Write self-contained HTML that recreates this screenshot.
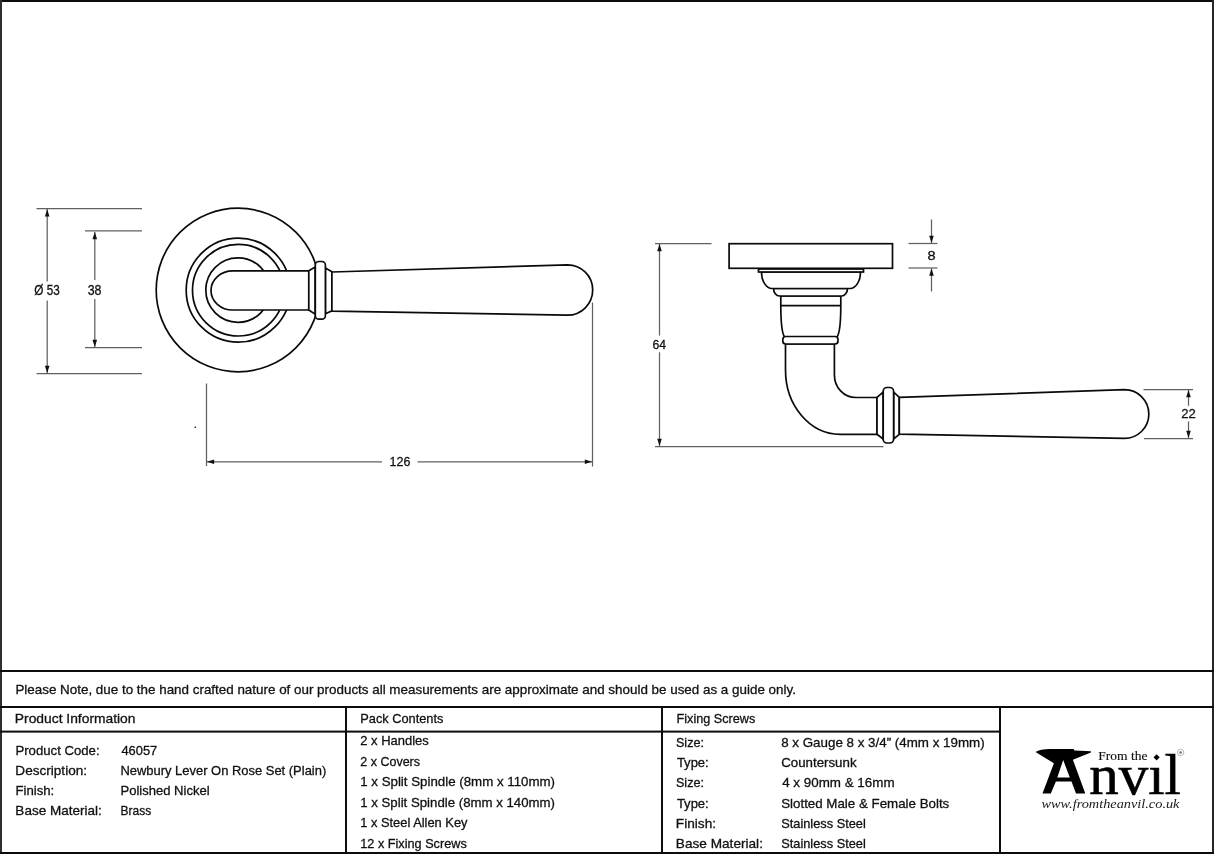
<!DOCTYPE html>
<html><head><meta charset="utf-8"><title>Newbury Lever On Rose Set</title>
<style>
html,body{margin:0;padding:0;background:#fff;}
body{width:1214px;height:867px;overflow:hidden;position:relative;}
svg{position:absolute;left:0;top:0;will-change:transform;}
text{font-family:"Liberation Sans",sans-serif;fill:#111;stroke:#111;stroke-width:0.3px;}
text.nv{stroke-width:0.6px;fill:#000;stroke:#000;}
text.ft{stroke-width:0.15px;}
text.url{stroke-width:0;fill:#1a1a1a;}
</style></head><body>
<svg width="1214" height="867" viewBox="0 0 1214 867">
<rect x="0" y="0" width="1214" height="867" fill="#fff"/>
<!-- frame -->
<g fill="#0c0c0c">
<rect x="0" y="0" width="1214" height="2"/>
<rect x="0" y="0" width="2" height="854" fill="#2e2e2e"/>
<rect x="1212" y="0" width="2" height="854" fill="#262626"/>
<rect x="0" y="852" width="1214" height="2"/>
<rect x="0" y="670" width="1214" height="2"/>
<rect x="0" y="706" width="1214" height="2"/>
<rect x="0" y="730.6" width="1000" height="2"/>
<rect x="345" y="706" width="2" height="148"/>
<rect x="661" y="706" width="2" height="148"/>
<rect x="999" y="706" width="2" height="148"/>
</g>
<g stroke="#606060" stroke-width="1.25" fill="none"><line x1="36.5" y1="208.7" x2="142" y2="208.7"/><line x1="36.5" y1="373.5" x2="142" y2="373.5"/><line x1="85" y1="230.9" x2="142" y2="230.9"/><line x1="85" y1="347.5" x2="142" y2="347.5"/><line x1="47.2" y1="209" x2="47.2" y2="281.6"/><line x1="47.2" y1="300.5" x2="47.2" y2="373"/><line x1="94.8" y1="232" x2="94.8" y2="280"/><line x1="94.8" y1="299" x2="94.8" y2="347"/><line x1="206.5" y1="383.5" x2="206.5" y2="466"/><line x1="592.5" y1="302.5" x2="592.5" y2="466.5"/><line x1="207" y1="461.8" x2="382" y2="461.8"/><line x1="417.5" y1="461.8" x2="592" y2="461.8"/></g><polygon points="47.2,209.3 44.900000000000006,216.5 49.5,216.5" fill="#111"/><polygon points="47.2,373 44.900000000000006,365.8 49.5,365.8" fill="#111"/><polygon points="94.8,232 92.5,239.2 97.1,239.2" fill="#111"/><polygon points="94.8,347 92.5,339.8 97.1,339.8" fill="#111"/><polygon points="206.9,461.8 214.1,459.5 214.1,464.1" fill="#111"/><polygon points="592,461.8 584.8,459.5 584.8,464.1" fill="#111"/><rect x="194.5" y="426.5" width="1.5" height="1.5" fill="#333"/><g stroke="#0a0a0a" stroke-width="1.7" fill="#fff"><circle cx="238" cy="290" r="81.8"/><circle cx="238.2" cy="290.2" r="52"/><circle cx="238.3" cy="290.2" r="45.8"/><circle cx="238" cy="290.1" r="32.2"/><path d="M308.8,270.8 L232.8,270.8 A21.8,19.6 0 0 0 232.8,310 L308.8,310 Z"/><path d="M308.8,270.8 L315.2,267 L315.2,314.1 L308.8,310 Z"/><path d="M325.4,268 L331.9,271.7 L331.9,310.9 L325.4,313.7 Z"/><rect x="315.3" y="261.5" width="10.1" height="57.7" rx="3.5"/><path d="M331.9,272 L567.5,264.8 A25.2,25.2 0 0 1 567.5,315.2 L331.9,311.1 Z"/></g><g stroke="#606060" stroke-width="1.25" fill="none"><line x1="655" y1="243.5" x2="711.5" y2="243.5"/><line x1="655" y1="446.5" x2="883.5" y2="446.5"/><line x1="659.5" y1="244" x2="659.5" y2="335.6"/><line x1="659.5" y1="352.3" x2="659.5" y2="446"/><line x1="908.5" y1="243.5" x2="937.5" y2="243.5"/><line x1="908.5" y1="268" x2="937.5" y2="268"/><line x1="931.5" y1="219.5" x2="931.5" y2="243"/><line x1="931.5" y1="268.5" x2="931.5" y2="291.5"/><line x1="1143.5" y1="389.5" x2="1193" y2="389.5"/><line x1="1144" y1="438.5" x2="1193" y2="438.5"/><line x1="1188.5" y1="390" x2="1188.5" y2="405.8"/><line x1="1188.5" y1="421.4" x2="1188.5" y2="438"/></g><polygon points="659.5,244 657.2,251.2 661.8,251.2" fill="#111"/><polygon points="659.5,446 657.2,438.8 661.8,438.8" fill="#111"/><polygon points="931.5,243 929.2,235.8 933.8,235.8" fill="#111"/><polygon points="931.5,268.5 929.2,275.7 933.8,275.7" fill="#111"/><polygon points="1188.5,390 1186.2,397.2 1190.8,397.2" fill="#111"/><polygon points="1188.5,438 1186.2,430.8 1190.8,430.8" fill="#111"/><g stroke="#0a0a0a" stroke-width="1.7" fill="#fff"><path d="M785.5,344 L785.5,370 C785.5,405.6 809.9,434.3 840,434.3 L877,434.3 L877,397.5 L856,397.5 C843.6,397.5 834.4,387.4 834.4,375 L834.4,344 Z"/><path d="M780.8,296 L840.8,296 L840.8,305 C840.8,322 840,333 837,337 L784.6,337 C781.6,333 780.8,322 780.8,305 Z"/><line x1="780.4" y1="305.6" x2="841" y2="305.6"/><rect x="782.8" y="336.5" width="55.2" height="7.5" rx="3"/><path d="M773.5,288.5 L847.5,288.5 A6,7.5 0 0 1 841.5,296 L779.5,296 A6,7.5 0 0 1 773.5,288.5 Z"/><path d="M761.5,272 L860.5,272 A10.5,16.5 0 0 1 850,288.5 L772,288.5 A10.5,16.5 0 0 1 761.5,272 Z"/><rect x="758.5" y="269" width="105" height="3"/><rect x="729.1" y="243.7" width="163.4" height="24.6"/><path d="M877,397.4 L883.2,392 L883.2,439 L877,434.3 Z"/><path d="M893.6,392 L899.3,397.3 L899.3,434.4 L893.6,439 Z"/><rect x="883.2" y="387.5" width="10.4" height="55.5" rx="3.8"/><path d="M899.3,397.3 L1124.5,389.7 A24.25,24.25 0 0 1 1124.5,438.4 L899.3,434.1 Z"/></g>

<g fill="#000">
<path fill-rule="evenodd" d="M1035.5,752 Q1040,749 1050,749 L1073.6,749 L1074.5,750.4 L1090.9,751.2 L1090.9,752.5 L1072.9,759.7 L1085.3,793.6 L1076,793.6 L1071.5,781.5 L1055.9,781.5 L1050.8,793.6 L1042.5,793.6 L1053.9,763.2 Z M1063.2,760 L1057.3,777.4 L1069.8,777.4 Z"/>
<path d="M1156.6,754.2 L1159.7,757.3 L1156.6,760.4 L1153.5,757.3 Z"/>
<circle cx="1180.6" cy="752.5" r="3.2" fill="none" stroke="#999" stroke-width="0.7"/>
<circle cx="1180.6" cy="752.5" r="1.3" fill="#777"/>
</g>

<text x="15.40" y="693.5" font-size="13.4" textLength="780.48" lengthAdjust="spacingAndGlyphs">Please Note, due to the hand crafted nature of our products all measurements are approximate and should be used as a guide only.</text>
<text x="14.87" y="722.8" font-size="13.4" textLength="120.62" lengthAdjust="spacingAndGlyphs">Product Information</text>
<text x="360.25" y="722.9" font-size="13.4" textLength="83.14" lengthAdjust="spacingAndGlyphs">Pack Contents</text>
<text x="676.55" y="723" font-size="13.4" textLength="78.77" lengthAdjust="spacingAndGlyphs">Fixing Screws</text>
<text x="15.42" y="754.5" font-size="13.4" textLength="84.18" lengthAdjust="spacingAndGlyphs">Product Code:</text>
<text x="121.40" y="754.5" font-size="13.4" textLength="35.84" lengthAdjust="spacingAndGlyphs">46057</text>
<text x="15.39" y="774.8" font-size="13.4" textLength="71.63" lengthAdjust="spacingAndGlyphs">Description:</text>
<text x="120.43" y="774.8" font-size="13.4" textLength="205.80" lengthAdjust="spacingAndGlyphs">Newbury Lever On Rose Set (Plain)</text>
<text x="15.42" y="795.1" font-size="13.4" textLength="38.81" lengthAdjust="spacingAndGlyphs">Finish:</text>
<text x="120.43" y="795.1" font-size="13.4" textLength="89.21" lengthAdjust="spacingAndGlyphs">Polished Nickel</text>
<text x="15.39" y="815.4" font-size="13.4" textLength="86.32" lengthAdjust="spacingAndGlyphs">Base Material:</text>
<text x="120.50" y="815.4" font-size="13.4" textLength="30.71" lengthAdjust="spacingAndGlyphs">Brass</text>
<text x="360.23" y="745.1" font-size="13.4" textLength="68.57" lengthAdjust="spacingAndGlyphs">2 x Handles</text>
<text x="360.27" y="765.6" font-size="13.4" textLength="59.73" lengthAdjust="spacingAndGlyphs">2 x Covers</text>
<text x="360.21" y="786.1" font-size="13.4" textLength="194.81" lengthAdjust="spacingAndGlyphs">1 x Split Spindle (8mm x 110mm)</text>
<text x="360.21" y="806.6" font-size="13.4" textLength="194.80" lengthAdjust="spacingAndGlyphs">1 x Split Spindle (8mm x 140mm)</text>
<text x="360.24" y="827.1" font-size="13.4" textLength="107.23" lengthAdjust="spacingAndGlyphs">1 x Steel Allen Key</text>
<text x="360.25" y="847.6" font-size="13.4" textLength="106.50" lengthAdjust="spacingAndGlyphs">12 x Fixing Screws</text>
<text x="675.96" y="746.7" font-size="13.4" textLength="27.97" lengthAdjust="spacingAndGlyphs">Size:</text>
<text x="781.20" y="746.7" font-size="13.4" textLength="203.50" lengthAdjust="spacingAndGlyphs">8 x Gauge 8 x 3/4” (4mm x 19mm)</text>
<text x="676.90" y="767.0500000000001" font-size="13.4" textLength="31.84" lengthAdjust="spacingAndGlyphs">Type:</text>
<text x="781.21" y="767.0500000000001" font-size="13.4" textLength="75.33" lengthAdjust="spacingAndGlyphs">Countersunk</text>
<text x="675.96" y="787.4000000000001" font-size="13.4" textLength="27.97" lengthAdjust="spacingAndGlyphs">Size:</text>
<text x="782.20" y="787.4000000000001" font-size="13.4" textLength="112.38" lengthAdjust="spacingAndGlyphs">4 x 90mm &amp; 16mm</text>
<text x="676.90" y="807.75" font-size="13.4" textLength="31.84" lengthAdjust="spacingAndGlyphs">Type:</text>
<text x="781.21" y="807.75" font-size="13.4" textLength="168.05" lengthAdjust="spacingAndGlyphs">Slotted Male &amp; Female Bolts</text>
<text x="675.88" y="828.1" font-size="13.4" textLength="40.20" lengthAdjust="spacingAndGlyphs">Finish:</text>
<text x="781.25" y="828.1" font-size="13.4" textLength="84.51" lengthAdjust="spacingAndGlyphs">Stainless Steel</text>
<text x="675.88" y="848.45" font-size="13.4" textLength="87.04" lengthAdjust="spacingAndGlyphs">Base Material:</text>
<text x="781.25" y="848.45" font-size="13.4" textLength="84.51" lengthAdjust="spacingAndGlyphs">Stainless Steel</text>
<text x="34.36" y="294.7" font-size="14" textLength="25.44" lengthAdjust="spacingAndGlyphs">Ø 53</text>
<text x="87.71" y="294.5" font-size="14" textLength="13.80" lengthAdjust="spacingAndGlyphs">38</text>
<text x="389.52" y="466.3" font-size="12.8" textLength="20.83" lengthAdjust="spacingAndGlyphs">126</text>
<text x="652.46" y="348.8" font-size="13" textLength="13.58" lengthAdjust="spacingAndGlyphs">64</text>
<text x="927.48" y="260.4" font-size="13" textLength="8.08" lengthAdjust="spacingAndGlyphs">8</text>
<text x="1181.29" y="418.3" font-size="13" textLength="14.58" lengthAdjust="spacingAndGlyphs">22</text>
<text x="1098.30" y="759.9" font-size="13.5" textLength="49.23" lengthAdjust="spacingAndGlyphs" class="ft" style="font-family:'Liberation Serif';font-style:normal">From the</text>
<text x="1089.18" y="793.6" font-size="58" textLength="91.77" lengthAdjust="spacingAndGlyphs" class="nv" style="font-family:'Liberation Serif';font-style:normal">nvıl</text>
<text x="1041.51" y="808" font-size="12" textLength="137.98" lengthAdjust="spacingAndGlyphs" class="url" style="font-family:'Liberation Serif';font-style:italic">www.fromtheanvil.co.uk</text>
</svg>
</body></html>
